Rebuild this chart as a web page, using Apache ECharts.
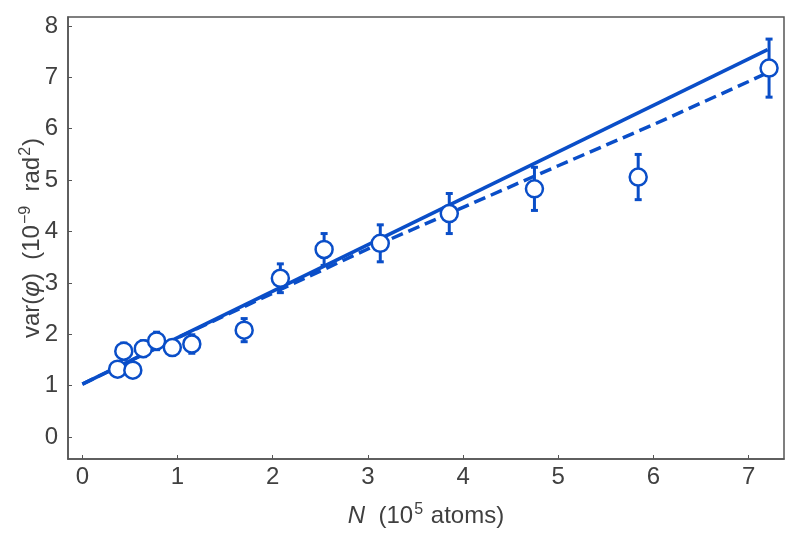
<!DOCTYPE html>
<html>
<head>
<meta charset="utf-8">
<script src="https://cdn.jsdelivr.net/npm/echarts@6/dist/echarts.min.js"></script>
<style>
  html, body { margin: 0; padding: 0; background: #fff; }
  #chart { width: 800px; height: 539px; }
</style>
</head>
<body>
<div id="chart"></div>
<script>
// measured points: N (10^5 atoms), var(phi) (10^-9 rad^2), error half-height
const atomNumbers = [0.37, 0.435, 0.53, 0.64, 0.78, 0.945, 1.15, 1.70, 2.08, 2.54, 3.13, 3.855, 4.75, 5.84, 7.215];
const variances   = [1.32, 1.67, 1.30, 1.72, 1.87, 1.74, 1.81, 2.08, 3.09, 3.65, 3.77, 4.35, 4.83, 5.06, 7.18];
const errors      = [0.12, 0.16, 0.12, 0.155, 0.17, 0.14, 0.18, 0.225, 0.28, 0.31, 0.36, 0.39, 0.42, 0.44, 0.565];

// fit lines
const solidFitX  = [0, 7.2];
const solidFitY  = [1.03, 7.54];
const dashedFitX = [0, 1, 2, 3, 4, 5, 6, 7, 7.2];
const dashedFitY = [1.03, 1.93, 2.80, 3.66, 4.47, 5.28, 6.08, 6.92, 7.09];

const blue = '#0a4ec8';
const textColor = '#404040';
const font = 'Liberation Sans';

const points = atomNumbers.map((x, i) => [x, variances[i], errors[i]]);

const nameRich = {
  i: { fontFamily: font, fontSize: 24, fontStyle: 'italic', color: textColor },
  v: { fontFamily: font, fontSize: 24, color: textColor },
  s: { fontFamily: font, fontSize: 16, color: textColor, verticalAlign: 'top', padding: [0, 1, 12, 1] }
};

const intLabel = v => (Number.isInteger(Math.round(v * 1000) / 1000) ? String(Math.round(v)) : '');

const chart = echarts.init(document.getElementById('chart'));
chart.setOption({
  animation: false,
  grid: {
    left: 68, right: 16, top: 17, bottom: 80,
    show: true, borderColor: '#555', borderWidth: 1.5
  },
  xAxis: {
    type: 'value',
    min: -0.151, max: 7.372,
    minInterval: 1, maxInterval: 1,
    name: '{i|N}{v|  (10}{s|5}{v| atoms)}',
    nameLocation: 'middle',
    nameGap: 43,
    nameMoveOverlap: false,
    nameTextStyle: { rich: nameRich },
    axisLine: { show: true, onZero: false, lineStyle: { color: '#555', width: 1.5 } },
    axisTick: { show: true, inside: true, length: 4, lineStyle: { color: '#555', width: 1 } },
    axisLabel: {
      margin: 6, fontFamily: font, fontSize: 24, color: textColor,
      showMinLabel: false, showMaxLabel: false,
      formatter: intLabel
    },
    splitLine: { show: false }
  },
  yAxis: {
    type: 'value',
    min: -0.428, max: 8.175,
    minInterval: 1, maxInterval: 1,
    name: '{v|var(}{i|φ}{v|)  (10}{s|−9}{v|  rad}{s|2}{v|)}',
    nameLocation: 'middle',
    nameGap: 22,
    nameMoveOverlap: false,
    nameRotate: 90,
    nameTextStyle: { rich: nameRich },
    axisLine: { show: true, onZero: false, lineStyle: { color: '#555', width: 1.5 } },
    axisTick: { show: true, inside: true, length: 4, lineStyle: { color: '#555', width: 1 } },
    axisLabel: {
      margin: 10, fontFamily: font, fontSize: 24, color: textColor,
      showMinLabel: false, showMaxLabel: false,
      formatter: intLabel
    },
    splitLine: { show: false }
  },
  series: [
    {
      type: 'line',
      data: solidFitX.map((x, i) => [x, solidFitY[i]]),
      showSymbol: false,
      lineStyle: { color: blue, width: 3.5 },
      z: 2
    },
    {
      type: 'line',
      data: dashedFitX.map((x, i) => [x, dashedFitY[i]]),
      showSymbol: false,
      lineStyle: { color: blue, width: 3.5, type: [12, 6] },
      z: 2
    },
    {
      type: 'custom',
      data: points,
      z: 3,
      renderItem: (params, api) => {
        const x = api.value(0), y = api.value(1), e = api.value(2);
        const top = api.coord([x, y + e]);
        const bot = api.coord([x, y - e]);
        const style = { stroke: blue, lineWidth: 3 };
        const cap = 3.5;
        return {
          type: 'group',
          children: [
            { type: 'line', shape: { x1: top[0], y1: top[1], x2: bot[0], y2: bot[1] }, style },
            { type: 'line', shape: { x1: top[0] - cap, y1: top[1], x2: top[0] + cap, y2: top[1] }, style },
            { type: 'line', shape: { x1: bot[0] - cap, y1: bot[1], x2: bot[0] + cap, y2: bot[1] }, style }
          ]
        };
      }
    },
    {
      type: 'scatter',
      data: points.map(p => [p[0], p[1]]),
      symbol: 'circle',
      symbolSize: 17,
      itemStyle: { color: '#fff', borderColor: blue, borderWidth: 2.5, opacity: 1 },
      z: 4
    }
  ]
});
</script>
</body>
</html>
